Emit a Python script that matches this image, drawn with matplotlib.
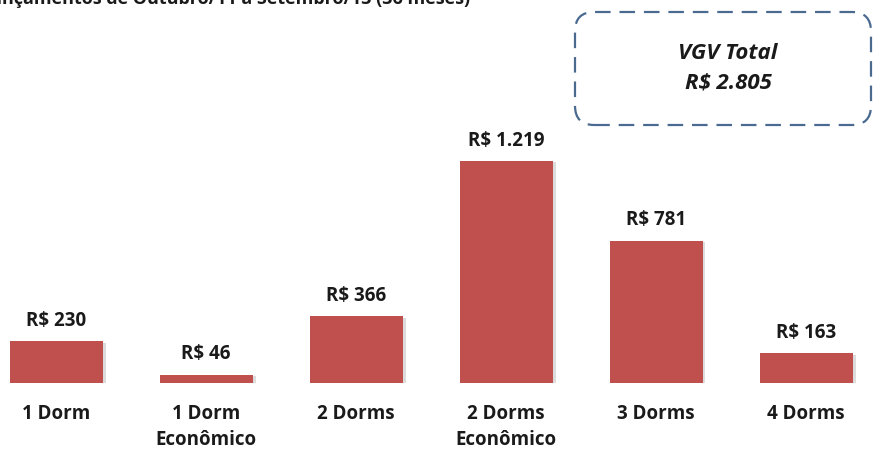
import matplotlib
matplotlib.use("Agg")
import matplotlib.pyplot as plt
from matplotlib.patches import FancyBboxPatch

categories = ["1 Dorm", "1 Dorm\nEconômico", "2 Dorms", "2 Dorms\nEconômico", "3 Dorms", "4 Dorms"]
values = [230, 46, 366, 1219, 781, 163]
value_labels = ["R$ 230", "R$ 46", "R$ 366", "R$ 1.219", "R$ 781", "R$ 163"]
title_text = "Lançamentos de Outubro/11 a Setembro/13 (36 meses)"
box_text = "VGV Total\nR$ 2.805"

plt.rcParams['font.family'] = ['Open Sans', 'DejaVu Sans']

W, H = 875, 450
fig = plt.figure(figsize=(W / 100, H / 100), dpi=100)
fig.patch.set_facecolor("white")

base_px = 383
ax = fig.add_axes([0, (H - base_px) / H, 1, base_px / H])
scale = 222 / 1219.0
ax.set_ylim(0, base_px / scale)
ax.set_xlim(-56 / 150, (W - 56) / 150)
ax.axis("off")

x = list(range(len(categories)))
# soft shadow
ax.bar([i + 0.02 for i in x], values, width=0.62, bottom=-8, color="#dcdcdc", zorder=1)
ax.bar(x, values, width=0.62, color="#C0504D", zorder=2)

for i, (v, lab) in enumerate(zip(values, value_labels)):
    ax.annotate(lab, (i, v), xytext=(0, 7.5), textcoords="offset points",
                ha="center", va="bottom", fontsize=13.5, fontweight="bold", color="#1a1a1a")

for i, c in enumerate(categories):
    ax.annotate(c, (i, 0), xytext=(0, -15), textcoords="offset points",
                ha="center", va="top", fontsize=13.5, fontweight="bold", color="#1a1a1a",
                linespacing=1.4, annotation_clip=False)

fig.text(470 / W, 1 - 4 / H, title_text, ha="right", va="baseline",
         fontsize=13, fontweight="bold", color="#1a1a1a")

box = FancyBboxPatch((575 / W, 1 - 125 / H), 296 / W, 113 / H,
                     boxstyle="round,pad=0,rounding_size=0.022",
                     transform=fig.transFigure, fill=False,
                     edgecolor="#4A6A90", linewidth=1.6, linestyle=(0, (7, 4)),
                     mutation_aspect=W / H)
fig.patches.append(box)
fig.text(728 / W, 1 - 68 / H, box_text, ha="center", va="center",
         fontsize=16, fontweight="bold", fontstyle="italic", color="#1a1a1a",
         linespacing=1.5)

fig.savefig("out.png", dpi=100)
